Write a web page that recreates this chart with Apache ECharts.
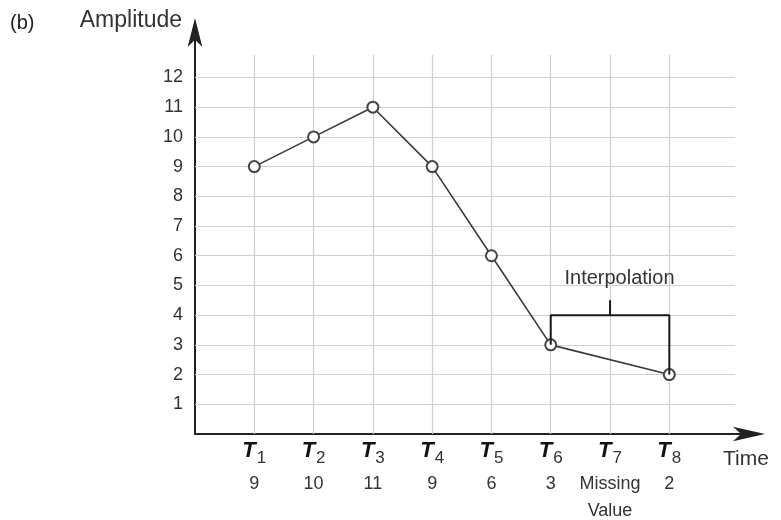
<!DOCTYPE html>
<html>
<head>
<meta charset="utf-8">
<script src="https://cdn.jsdelivr.net/npm/echarts@6/dist/echarts.min.js"></script>
<style>html,body{margin:0;padding:0;background:#fff}#c{width:781px;height:520px}</style>
</head>
<body>
<div id="c"></div>
<script>
// ---- data ----
const timeIndex = [1, 2, 3, 4, 5, 6, 7, 8];
const amplitude = [9, 10, 11, 9, 6, 3, null, 2];
const valueLabels = ['9', '10', '11', '9', '6', '3', 'Missing\nValue', '2'];
const yTicks = [1, 2, 3, 4, 5, 6, 7, 8, 9, 10, 11, 12];
const bracketPoints = [[6, 3], [6, 4], [8, 4], [8, 2]];
const bracketTick = [[7, 4], [7, 4.5]];
const bracketLabelPos = [7.16, 5.25];
const bracketText = 'Interpolation';
const panelTag = '(b)';
const yName = 'Amplitude';
const xName = 'Time';

// plotting-area extents (grid lines stop here, axes continue to the arrows)
const GRID_X_END = 9.108;
const GRID_Y_END = 12.757;

const FONT = '"Liberation Sans", Arial, Helvetica, sans-serif';
const chart = echarts.init(document.getElementById('c'), null, {renderer: 'canvas'});

const lineData = amplitude.map((v, i) => [timeIndex[i], v]).filter(d => d[1] !== null);

function xLabel(v) {
  const i = timeIndex.indexOf(v);
  if (i < 0) return '';
  const parts = valueLabels[i].split('\n');
  const vals = parts.map((s, k) => (k === 0 ? '{v|' + s + '}' : '{w|' + s + '}')).join('\n');
  return '{t|T}{s|' + timeIndex[i] + '}\n' + vals;
}

const gridLines = yTicks.map(v => [{coord: [0, v]}, {coord: [GRID_X_END, v]}])
  .concat(timeIndex.map(v => [{coord: [v, 0]}, {coord: [v, GRID_Y_END]}]));

const option = {
  animation: false,
  backgroundColor: '#fff',
  textStyle: {fontFamily: FONT},
  title: {
    text: panelTag, left: 5, top: 8,
    textStyle: {fontFamily: FONT, fontSize: 20, fontWeight: 'normal', color: '#222'}
  },
  grid: {left: 195, right: 32, top: 32.5, bottom: 86, containLabel: false},
  xAxis: {
    type: 'value', min: 0, max: 9.344, interval: 1,
    name: xName, nameLocation: 'end', nameGap: -26,
    nameTextStyle: {fontFamily: FONT, fontSize: 21, color: '#333', align: 'left', verticalAlign: 'top', padding: [15, 0, 0, 0]},
    axisLine: {show: true, lineStyle: {color: '#222', width: 2}, symbol: ['none', 'arrow'], symbolSize: [11, 32], symbolOffset: [0, 16]},
    axisTick: {show: false},
    splitLine: {show: false},
    axisLabel: {
      show: true, margin: 1, formatter: xLabel, showMinLabel: false, showMaxLabel: false,
      rich: {
        t: {fontFamily: FONT, fontSize: 22, fontWeight: 'bold', fontStyle: 'italic', color: '#111', lineHeight: 32},
        s: {fontFamily: FONT, fontSize: 17, color: '#333', lineHeight: 17, verticalAlign: 'bottom', padding: [0, 0, 0, 1]},
        v: {fontFamily: FONT, fontSize: 18, color: '#333', lineHeight: 34},
        w: {fontFamily: FONT, fontSize: 18, color: '#333', lineHeight: 20}
      }
    }
  },
  yAxis: {
    type: 'value', min: 0, max: 13.514, interval: 1,
    name: yName, nameLocation: 'end', nameGap: 11.5,
    nameTextStyle: {fontFamily: FONT, fontSize: 23, color: '#333', align: 'right', verticalAlign: 'middle', padding: [0, 13, 0, 0]},
    axisLine: {show: true, lineStyle: {color: '#222', width: 2}, symbol: ['none', 'arrow'], symbolSize: [11, 29], symbolOffset: [0, 14.5]},
    axisTick: {show: false},
    splitLine: {show: false},
    axisLabel: {
      margin: 12, fontFamily: FONT, fontSize: 18, color: '#333',
      formatter: v => (yTicks.indexOf(v) >= 0 ? String(v) : '')
    }
  },
  series: [
    {
      type: 'line', data: [], silent: true, z: 1,
      markLine: {
        silent: true, symbol: 'none', animation: false, z: 1,
        label: {show: false},
        lineStyle: {color: '#cfcfcf', type: 'solid', width: 1.2},
        data: gridLines
      }
    },
    {
      type: 'line', data: lineData, z: 5,
      symbol: 'emptyCircle', symbolSize: 11,
      lineStyle: {color: '#3a3a3a', width: 1.6},
      itemStyle: {color: '#444', borderWidth: 1.3}
    },
    {
      type: 'line', data: bracketPoints, symbol: 'none', z: 8,
      lineStyle: {color: '#1a1a1a', width: 2}
    },
    {
      type: 'line', data: bracketTick, symbol: 'none', z: 8,
      lineStyle: {color: '#1a1a1a', width: 2}
    },
    {
      type: 'scatter', data: [bracketLabelPos], symbolSize: 1, z: 9,
      itemStyle: {opacity: 0},
      label: {show: true, position: 'inside', formatter: bracketText, fontFamily: FONT, fontSize: 20, color: '#333', opacity: 1}
    }
  ]
};
chart.setOption(option);
</script>
</body>
</html>
